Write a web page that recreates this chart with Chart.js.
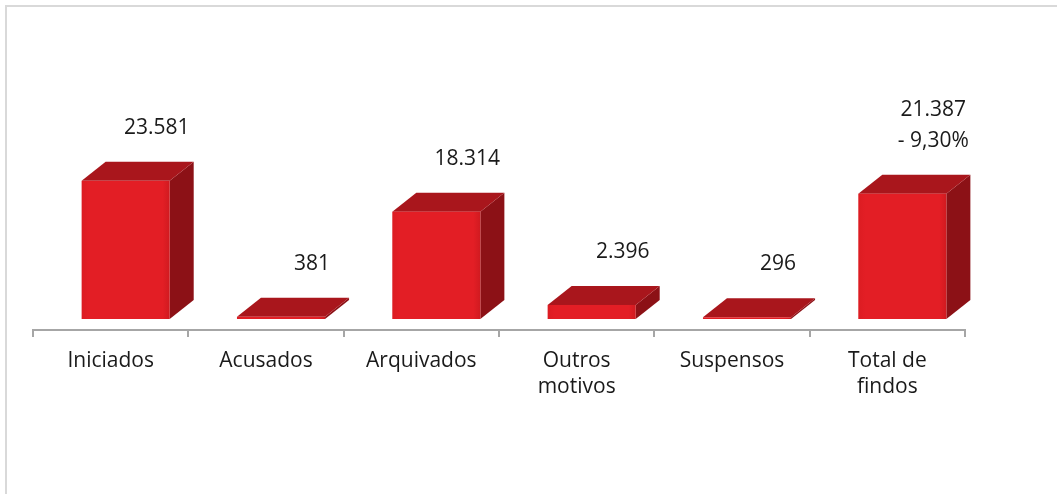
<!DOCTYPE html>
<html>
<head>
<meta charset="utf-8">
<script src="https://cdn.jsdelivr.net/npm/chart.js@4/dist/chart.umd.min.js"></script>
<style>
  html, body { margin: 0; padding: 0; background: #fff; }
  #wrap { position: relative; width: 1057px; height: 494px; }
</style>
</head>
<body>
<div id="wrap"><canvas id="grafico" width="1057" height="494"></canvas></div>
<script>
// categorias e valores
var categorias = ['Iniciados', 'Acusados', 'Arquivados', ['Outros', 'motivos'], 'Suspensos', ['Total de', 'findos']];
var valores = [23581, 381, 18314, 2396, 296, 21387];
var notas = ['', '', '', '', '', '- 9,30%'];

// cores das faces
var corFrente = '#e31e25';
var corTopo = '#a9161c';
var corLado = '#8c1116';

function formata(n) {
  return String(n).replace(/\B(?=(\d{3})+(?!\d))/g, '.');
}

//// moldura cinzenta (só esquerda e topo visiveis)
var moldura = {
  id: 'moldura',
  beforeDraw: function (chart) {
    var c = chart.ctx;
    c.save();
    c.fillStyle = '#d9d9d9';
    c.fillRect(5, 5, 2, 494);
    c.fillRect(5, 5, 1057, 2);
    c.restore();
  }
};

//// barras em 3D desenhadas a partir dos elementos do chart
var barras3d = {
  id: 'barras3d',
  afterDatasetsDraw: function (chart) {
    var c = chart.ctx;
    var meta = chart.getDatasetMeta(0);
    var dx = 24, dy = 19, sx = 15, sy = 11;
    c.save();
    meta.data.forEach(function (bar, i) {
      var p = bar.getProps(['x', 'y', 'base', 'width'], true);
      var L = p.x - p.width / 2 + sx;
      var R = L + p.width;
      var T = p.y - sy;
      var B = p.base - sy;
      // lado
      c.fillStyle = corLado;
      c.beginPath();
      c.moveTo(R, T); c.lineTo(R + dx, T - dy); c.lineTo(R + dx, B - dy); c.lineTo(R, B);
      c.closePath(); c.fill();
      // topo
      c.fillStyle = corTopo;
      c.beginPath();
      c.moveTo(L, T); c.lineTo(L + dx, T - dy); c.lineTo(R + dx, T - dy); c.lineTo(R, T);
      c.closePath(); c.fill();
      // frente
      var g = c.createLinearGradient(L, 0, R, 0);
      g.addColorStop(0, '#dc1c22');
      g.addColorStop(0.08, corFrente);
      g.addColorStop(0.92, corFrente);
      g.addColorStop(1, '#d01a20');
      c.fillStyle = g;
      c.fillRect(L, T, R - L, Math.max(B - T, 1));

      // rotulos
      c.fillStyle = '#1a1a1a';
      c.font = '21px "Open Sans"';
      c.textAlign = 'center';
      c.textBaseline = 'middle';
      var lx = (L + R) / 2 + 31;
      var ly = T - dy - 34;
      if (notas[i]) {
        c.fillText(notas[i], lx, ly);
        ly -= 31;
      }
      c.fillText(formata(valores[i]), lx, ly);
    });
    c.restore();
  }
};

var ctx = document.getElementById('grafico').getContext('2d');
var grafico = new Chart(ctx, {
  type: 'bar',
  data: {
    labels: categorias,
    datasets: [{
      data: valores,
      backgroundColor: 'rgba(0,0,0,0)',
      borderWidth: 0,
      categoryPercentage: 1,
      barPercentage: 0.567
    }]
  },
  options: {
    responsive: false,
    animation: false,
    devicePixelRatio: 1,
    layout: { padding: { top: 37, left: 33, right: 92, bottom: 0 } },
    plugins: { legend: { display: false }, tooltip: { enabled: false } },
    scales: {
      y: { display: false, min: 0, max: 50000 },
      x: {
        offset: true,
        grid: { display: true, drawOnChartArea: false, drawTicks: true, tickLength: 7, color: '#a6a6a6', lineWidth: 2, offset: true },
        border: { display: true, color: '#a6a6a6', width: 2 },
        ticks: {
          color: '#1a1a1a',
          font: { family: 'Open Sans', size: 21, lineHeight: 1.25 },
          padding: 11,
          maxRotation: 0,
          autoSkip: false
        },
        afterFit: function (s) { s.height = 164; }
      }
    }
  },
  plugins: [moldura, barras3d]
});
</script>
</body>
</html>
